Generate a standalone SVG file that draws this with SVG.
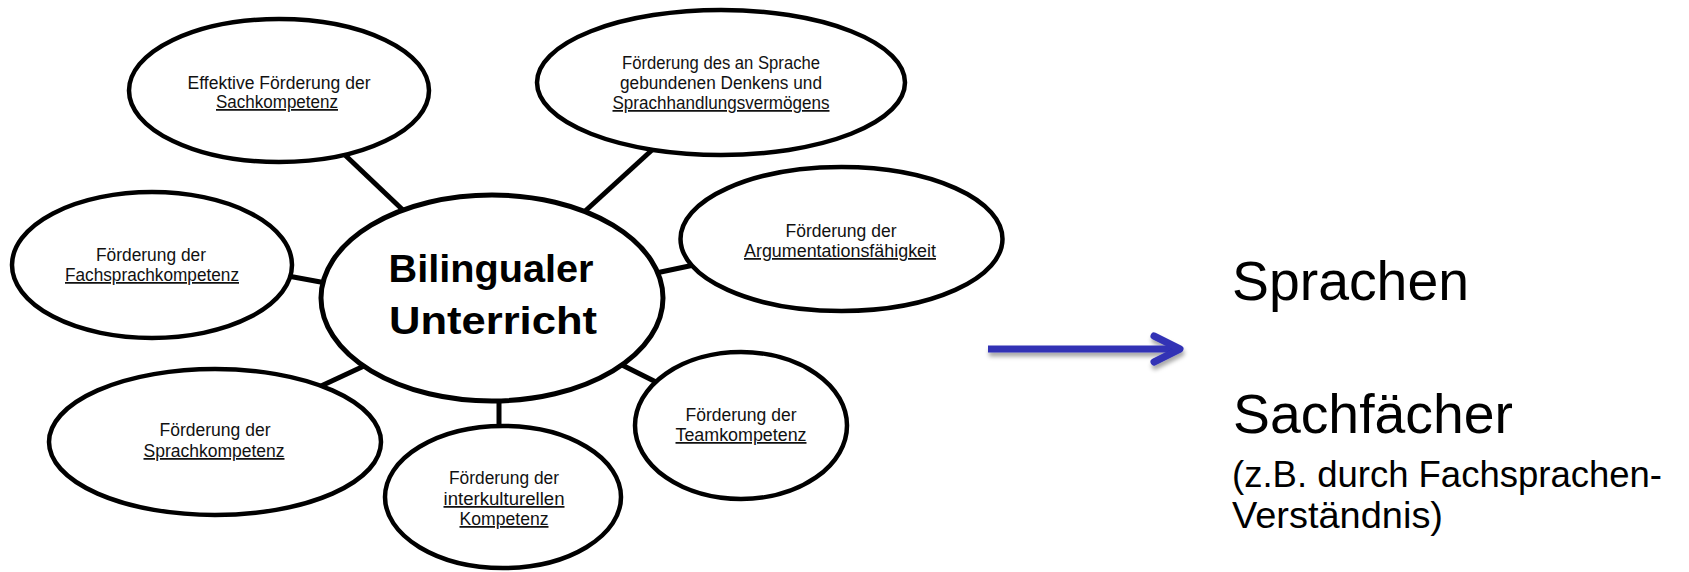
<svg xmlns="http://www.w3.org/2000/svg" width="1689" height="572" viewBox="0 0 1689 572">
<defs>
<style>
.node ellipse{fill:#fff;stroke:#000;stroke-width:4.5}
.conn line{stroke:#000;stroke-width:5}
.t{font-family:"Liberation Sans",Arial,sans-serif;font-size:17.5px;fill:#111;text-anchor:middle}
.u{text-decoration:underline}
.big{font-family:"Liberation Sans",Arial,sans-serif;font-weight:bold;font-size:38px;fill:#000;text-anchor:middle}
.r{font-family:"Liberation Sans",Arial,sans-serif;fill:#000}
</style>
<filter id="sh" x="-10%" y="-50%" width="120%" height="200%">
<feDropShadow dx="1" dy="4" stdDeviation="2" flood-color="#000" flood-opacity="0.35"/>
</filter>
</defs>
<rect width="1689" height="572" fill="#fff"/>
<g id="connectors" class="conn">
<line x1="345" y1="155" x2="405" y2="212"/>
<line x1="652" y1="150" x2="583" y2="213"/>
<line x1="288" y1="276" x2="326" y2="283"/>
<line x1="656" y1="273" x2="694" y2="265"/>
<line x1="364" y1="366" x2="321" y2="386"/>
<line x1="499" y1="398" x2="499" y2="430"/>
<line x1="620" y1="364" x2="660" y2="384"/>
</g>
<g id="n-effektive" class="node">
<ellipse cx="279" cy="90.5" rx="150" ry="71.5"/>
<text class="t" x="279" y="89" textLength="183" lengthAdjust="spacingAndGlyphs">Effektive Förderung der</text>
<text class="t u" x="277" y="108" textLength="122" lengthAdjust="spacingAndGlyphs">Sachkompetenz</text>
</g>
<g id="n-fachsprach" class="node">
<ellipse cx="152" cy="265" rx="140" ry="73"/>
<text class="t" x="151" y="261" textLength="110" lengthAdjust="spacingAndGlyphs">Förderung der</text>
<text class="t u" x="152" y="281" textLength="174" lengthAdjust="spacingAndGlyphs">Fachsprachkompetenz</text>
</g>
<g id="n-denken" class="node">
<ellipse cx="721" cy="82.5" rx="184" ry="72.5"/>
<text class="t" x="721" y="69" textLength="198" lengthAdjust="spacingAndGlyphs">Förderung des an Sprache</text>
<text class="t" x="721" y="89" textLength="202" lengthAdjust="spacingAndGlyphs">gebundenen Denkens und</text>
<text class="t u" x="721" y="109" textLength="217" lengthAdjust="spacingAndGlyphs">Sprachhandlungsvermögens</text>
</g>
<g id="n-argument" class="node">
<ellipse cx="841.5" cy="239" rx="161" ry="72"/>
<text class="t" x="841" y="237" textLength="111" lengthAdjust="spacingAndGlyphs">Förderung der</text>
<text class="t u" x="840" y="257" textLength="192" lengthAdjust="spacingAndGlyphs">Argumentationsfähigkeit</text>
</g>
<g id="n-sprach" class="node">
<ellipse cx="215" cy="442" rx="166" ry="73"/>
<text class="t" x="215" y="436" textLength="111" lengthAdjust="spacingAndGlyphs">Förderung der</text>
<text class="t u" x="214" y="457" textLength="141" lengthAdjust="spacingAndGlyphs">Sprachkompetenz</text>
</g>
<g id="n-interkulturell" class="node">
<ellipse cx="503" cy="497" rx="118" ry="71"/>
<text class="t" x="504" y="484" textLength="110" lengthAdjust="spacingAndGlyphs">Förderung der</text>
<text class="t u" x="504" y="505" textLength="121" lengthAdjust="spacingAndGlyphs">interkulturellen</text>
<text class="t u" x="504" y="525" textLength="89" lengthAdjust="spacingAndGlyphs">Kompetenz</text>
</g>
<g id="n-team" class="node">
<ellipse cx="741" cy="425.5" rx="106" ry="73.5"/>
<text class="t" x="741" y="421" textLength="111" lengthAdjust="spacingAndGlyphs">Förderung der</text>
<text class="t u" x="741" y="441" textLength="131" lengthAdjust="spacingAndGlyphs">Teamkompetenz</text>
</g>
<g id="n-center" class="node">
<ellipse cx="492" cy="298" rx="171" ry="103" style="stroke-width:5"/>
<text class="big" x="491" y="282" textLength="205" lengthAdjust="spacingAndGlyphs">Bilingualer</text>
<text class="big" x="493" y="334" textLength="208" lengthAdjust="spacingAndGlyphs">Unterricht</text>
</g>
<g id="arrow" filter="url(#sh)" fill="none" stroke="#3030B5" stroke-width="7" stroke-linecap="round" stroke-linejoin="round">
<line x1="988" y1="349" x2="1178" y2="349" stroke-linecap="butt"/>
<polyline points="1154,336 1180,349 1154,362"/>
</g>
<g id="right-text">
<text class="r" x="1232" y="300" font-size="55" textLength="237" lengthAdjust="spacingAndGlyphs">Sprachen</text>
<text class="r" x="1233" y="433" font-size="55" textLength="280" lengthAdjust="spacingAndGlyphs">Sachfächer</text>
<text class="r" x="1232" y="487" font-size="36.5" textLength="430" lengthAdjust="spacingAndGlyphs">(z.B. durch Fachsprachen-</text>
<text class="r" x="1232" y="528" font-size="36.5" textLength="211" lengthAdjust="spacingAndGlyphs">Verständnis)</text>
</g>
</svg>
